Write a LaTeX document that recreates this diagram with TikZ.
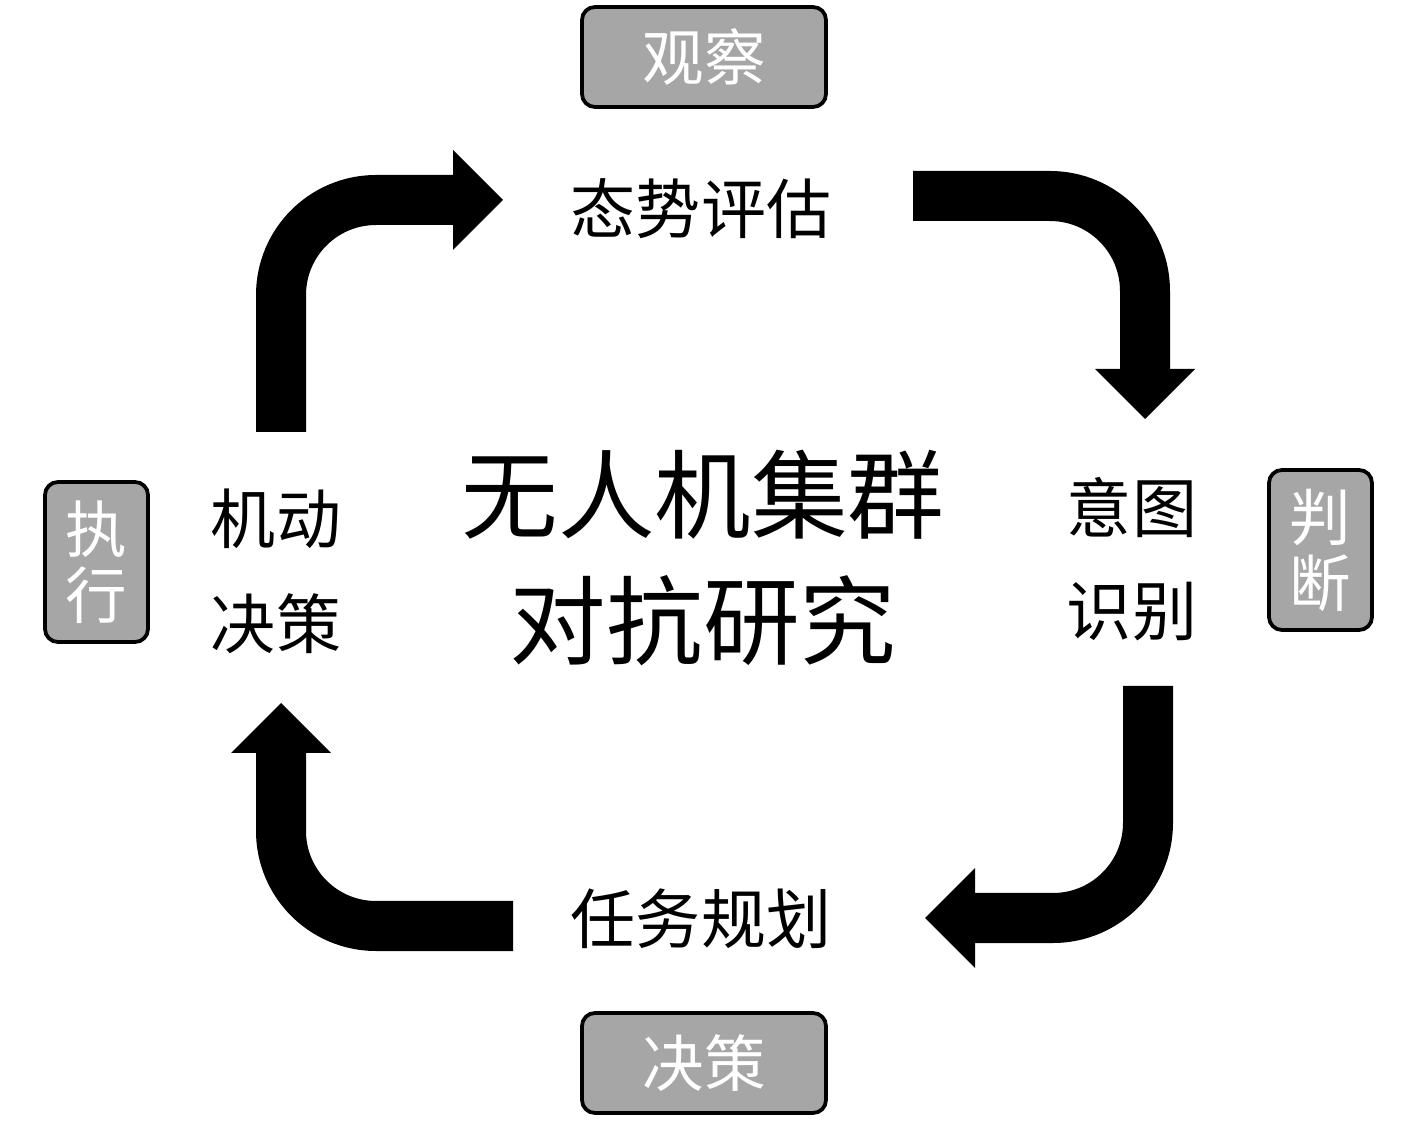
\documentclass[tikz,border=0pt]{standalone}
\usepackage{fontspec}
\newfontfamily\cjk{Noto Sans CJK SC}
\usetikzlibrary{arrows.meta}
\definecolor{boxgray}{RGB}{166,166,166}
\tikzset{
  stagebox/.style={draw=black, line width=0.75mm, fill=boxgray, rounded corners=2.6mm,
    text=white, font=\cjk\fontsize{35}{37.5}\selectfont, align=center, inner sep=0pt},
  phasetext/.style={font=\cjk\fontsize{37}{40}\selectfont, inner sep=0pt},
  maintext/.style={font=\cjk\fontsize{55}{60}\selectfont, inner sep=0pt},
  bendarrow/.style={line width=1cm, rounded corners=1.9cm,
    -{Triangle[length=1cm,width=2cm,line width=0pt]}}
}

\begin{document}
\begin{tikzpicture}[x=0.2mm,y=-0.2mm]
    \useasboundingbox (0,0) rectangle (1417,1122);

    % stage boxes
    \node[stagebox, minimum width=48.8mm, minimum height=20mm] (observe) at (704,57) {观察};
    \node[stagebox, minimum width=48.8mm, minimum height=20mm] (decide) at (704,1063) {决策};
    \node[stagebox, minimum width=20.6mm, minimum height=32mm] (execute) at (96.5,562) {执\\行};
    \node[stagebox, minimum width=20.6mm, minimum height=32mm] (judge) at (1320.5,550) {判\\断};

    % center title
    \node[maintext] (title1) at (703,495) {无人机集群};
    \node[maintext] (title2) at (703,621) {对抗研究};

    % phases
    \node[phasetext] (assess) at (701,209) {态势评估};
    \node[phasetext] (plan) at (701,919) {任务规划};
    \node[phasetext] (move1) at (276,519) {机动};
    \node[phasetext] (move2) at (276,624) {决策};
    \node[phasetext] (intent1) at (1132,508) {意图};
    \node[phasetext] (intent2) at (1132,612) {识别};

    % arrow ends
    \coordinate (tlS) at (281,432);
    \coordinate (tlE) at (503,200);
    \coordinate (trS) at (913,196);
    \coordinate (trE) at (1145,419);
    \coordinate (brS) at (1148,686);
    \coordinate (brE) at (925,918);
    \coordinate (blS) at (513,926);
    \coordinate (blE) at (281,703);

    \draw[bendarrow] (tlS) |- (tlE);
    \draw[bendarrow] (trS) -| (trE);
    \draw[bendarrow] (brS) |- (brE);
    \draw[bendarrow] (blS) -| (blE);
\end{tikzpicture}
\end{document}
